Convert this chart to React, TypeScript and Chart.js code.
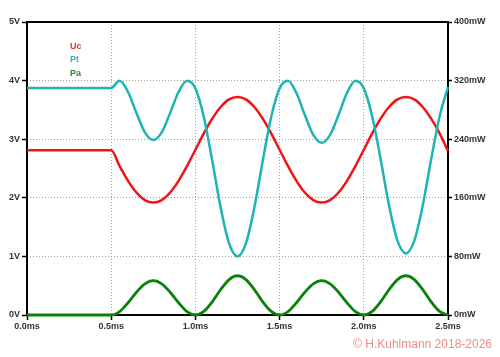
import React, { useEffect, useRef } from 'react';
import { Chart, registerables } from 'chart.js';

Chart.register(...registerables);

// time axis (ms)
const timeMs = [
  0, 0.5, 0.55, 0.6, 0.65, 0.7, 0.75, 0.8, 0.85, 0.9, 0.95,
  1.0, 1.05, 1.1, 1.15, 1.2, 1.25, 1.3, 1.35, 1.4, 1.45,
  1.5, 1.55, 1.6, 1.65, 1.7, 1.75, 1.8, 1.85, 1.9, 1.95,
  2.0, 2.05, 2.1, 2.15, 2.2, 2.25, 2.3, 2.35, 2.4, 2.45, 2.5,
];

// Uc (V), left axis
const ucVolts = [
  2.81, 2.81, 2.54, 2.29, 2.09, 1.96, 1.92, 1.96, 2.09, 2.29, 2.54,
  2.82, 3.10, 3.35, 3.55, 3.68, 3.72, 3.68, 3.55, 3.35, 3.10,
  2.82, 2.54, 2.29, 2.09, 1.96, 1.92, 1.96, 2.09, 2.29, 2.54,
  2.82, 3.10, 3.35, 3.55, 3.68, 3.72, 3.68, 3.55, 3.35, 3.10, 2.80,
];

// Pt (mW), right axis
const ptMilliwatts = [
  310, 310, 319.7, 304.4, 275.7, 249.4, 239, 249.4, 275.7, 304.4, 319.7,
  309.4, 270.4, 210.6, 146.6, 97.7, 80, 97.7, 146.6, 210.6, 270.4,
  309.4, 319.7, 303, 273, 246, 235, 246, 273, 303, 319.7,
  309.4, 271, 212.5, 149.5, 101.5, 84, 101.5, 149.5, 212.5, 271, 311,
];

// Pa (mW), right axis
const paMilliwatts = [
  0, 0, 4.7, 16.7, 31.1, 42.5, 46.8, 42.5, 31.1, 16.7, 4.7,
  0, 4.9, 18.0, 34.7, 48.4, 53.6, 48.4, 34.7, 18.0, 4.9,
  0, 4.7, 16.7, 31.1, 42.5, 46.8, 42.5, 31.1, 16.7, 4.7,
  0, 4.9, 18.0, 34.7, 48.4, 53.6, 48.4, 34.7, 18.0, 4.9, 0,
];

const seriesNames = ['Uc', 'Pt', 'Pa'];
const seriesColors = ['#f01414', '#1eb4b4', '#0a820a'];
const legendColors = ['#f03030', '#2ab8b8', '#2a8a2a'];
const copyrightText = '\u00A9 H.Kuhlmann 2018-2026';

const tickFont = { family: '"Liberation Sans", Arial, sans-serif', size: 9, weight: 'bold' as const };

const toPoints = (ys: number[]) => timeMs.map((x, i) => ({ x, y: ys[i] }));

const framePlugin = {
  id: 'frame',
  beforeDatasetsDraw(chart: any) {
    const { ctx, chartArea: a } = chart;
    ctx.save();
    ctx.strokeStyle = '#000';
    ctx.lineWidth = 2;
    ctx.strokeRect(a.left, a.top, a.right - a.left, a.bottom - a.top);
    ctx.restore();
  },
  afterDraw(chart: any) {
    const { ctx } = chart;
    ctx.save();
    ctx.font = 'bold 9px "Liberation Sans", Arial, sans-serif';
    ctx.textAlign = 'left';
    ctx.textBaseline = 'alphabetic';
    seriesNames.forEach((n, i) => {
      ctx.fillStyle = legendColors[i];
      ctx.fillText(n, 70, 48.5 + i * 13.8);
    });
    ctx.font = '12px "Liberation Sans", Arial, sans-serif';
    ctx.fillStyle = '#f28a8a';
    ctx.textAlign = 'right';
    ctx.fillText(copyrightText, 492, 348);
    ctx.restore();
  },
};

export default function App() {
  const ref = useRef<HTMLCanvasElement | null>(null);
  useEffect(() => {
    if (!ref.current) return;
    const grid = {
      color: '#a0a0a0',
      lineWidth: 1,
      borderDash: [1, 2],
      tickColor: '#000',
      tickWidth: 1.5,
      tickBorderDash: [],
    };
    const chart = new Chart(ref.current, {
      type: 'line',
      data: {
        datasets: [
          {
            label: 'Uc', data: toPoints(ucVolts), yAxisID: 'y',
            borderColor: seriesColors[0], borderWidth: 2.5, pointRadius: 0,
            cubicInterpolationMode: 'monotone', order: 1, clip: 4,
          },
          {
            label: 'Pt', data: toPoints(ptMilliwatts), yAxisID: 'y1',
            borderColor: seriesColors[1], borderWidth: 2.5, pointRadius: 0,
            cubicInterpolationMode: 'monotone', order: 0, clip: 4,
          },
          {
            label: 'Pa', data: toPoints(paMilliwatts), yAxisID: 'y1',
            borderColor: seriesColors[2], borderWidth: 2.8, pointRadius: 0,
            cubicInterpolationMode: 'monotone', order: 2, clip: 4,
          },
        ] as any,
      },
      options: {
        animation: false,
        responsive: false,
        maintainAspectRatio: false,
        layout: { padding: { top: 22, left: 0, right: 0, bottom: 0 } },
        plugins: { legend: { display: false }, tooltip: { enabled: false } },
        scales: {
          x: {
            type: 'linear', min: 0, max: 2.5,
            grid: { ...grid, tickLength: 5 },
            border: { display: false, dash: [1, 2] },
            ticks: {
              stepSize: 0.5, padding: 1, color: '#333', font: tickFont,
              maxRotation: 0, autoSkip: false,
              callback: (v: any) => Number(v).toFixed(1) + 'ms',
            },
            afterFit: (s: any) => { s.height = 42; },
          },
          y: {
            type: 'linear', position: 'left', min: 0, max: 5,
            grid: { ...grid, tickLength: 5 },
            border: { display: false, dash: [1, 2] },
            ticks: {
              stepSize: 1, padding: 2, color: '#333', font: tickFont,
              callback: (v: any) => v + 'V',
            },
            afterFit: (s: any) => { s.width = 27; },
          },
          y1: {
            type: 'linear', position: 'right', min: 0, max: 400,
            grid: { ...grid, drawOnChartArea: false, tickLength: 4 },
            border: { display: false },
            ticks: {
              stepSize: 80, padding: 2, color: '#333', font: tickFont,
              callback: (v: any) => v + 'mW',
            },
            afterFit: (s: any) => { s.width = 52; },
          },
        },
      } as any,
      plugins: [framePlugin],
    });
    return () => chart.destroy();
  }, []);
  return (
    <div style={{ position: 'fixed', left: 0, top: 0, width: 500, height: 357, background: '#fff' }}>
      <canvas ref={ref} width={500} height={357} style={{ width: 500, height: 357, display: 'block' }} />
    </div>
  );
}
